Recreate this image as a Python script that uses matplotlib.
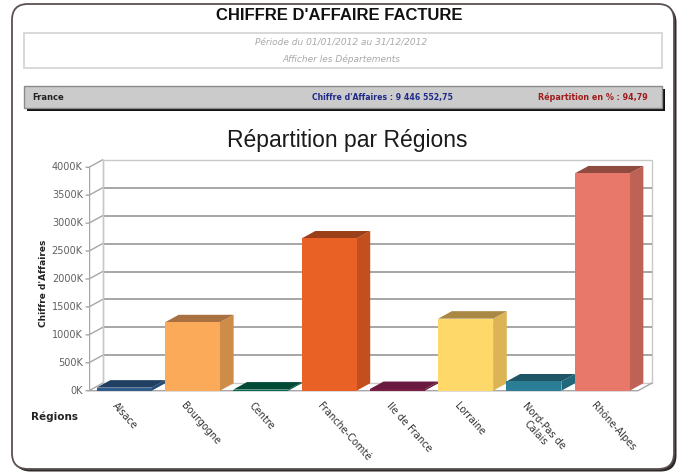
import matplotlib
matplotlib.use('Agg')
import matplotlib.pyplot as plt
from matplotlib.patches import FancyBboxPatch, Rectangle, Polygon

# Chiffre d'affaires par région (en milliers d'euros)
regions = ['Alsace', 'Bourgogne', 'Centre', 'Franche-Comté', 'Ile de France',
           'Lorraine', 'Nord-Pas de\nCalais', 'Rhône-Alpes']
ca_k = [55, 1225, 20, 2725, 30, 1290, 165, 3890]
y_ticks = [0, 500, 1000, 1500, 2000, 2500, 3000, 3500, 4000]

front_col = ['#2f5b8d', '#fbaa5a', '#006b4f', '#ea6125', '#7c1d48',
             '#fed96a', '#2b7e95', '#e8786a']
side_col = ['#264a74', '#cd8c48', '#005740', '#c24f1d', '#65173b',
            '#dcb456', '#22677a', '#be6256']
top_col = ['#203f62', '#a97041', '#004a36', '#9a3f17', '#6a1a3e',
           '#a98844', '#1e5666', '#914a40']

W, H = 685, 475
fig = plt.figure(figsize=(W / 100, H / 100), dpi=100)

# background axes in pixel coordinates
bg = fig.add_axes([0, 0, 1, 1])
bg.set_xlim(0, W)
bg.set_ylim(H, 0)
bg.axis('off')

# rounded panel with shadow
bg.add_patch(FancyBboxPatch((14.5, 6.5), 662, 465, boxstyle='round,pad=0,rounding_size=16',
                            facecolor='#2e2a2a', edgecolor='none'))
bg.add_patch(FancyBboxPatch((12, 4), 662, 465, boxstyle='round,pad=0,rounding_size=16',
                            facecolor='white', edgecolor='#5a5050', lw=1.3))

bg.text(339, 16, "CHIFFRE D'AFFAIRE FACTURE", ha='center', va='center',
        fontsize=12, fontweight='bold', family='Liberation Sans', color='#111111')

# period box
bg.add_patch(Rectangle((24, 33), 638, 35, facecolor='white', edgecolor='#d2d2d2', lw=1.2))
bg.text(341, 43, 'Période du 01/01/2012 au 31/12/2012', ha='center', va='center',
        fontsize=6.5, style='italic', color='#a8a8a8')
bg.text(341, 59, 'Afficher les Départements', ha='center', va='center',
        fontsize=6.5, style='italic', color='#a8a8a8')

# grey summary bar
bg.add_patch(Rectangle((27, 89), 638, 22, facecolor='#111111', edgecolor='none'))
bg.add_patch(Rectangle((24, 86), 638, 22, facecolor='#cbcbcb', edgecolor='#8a8a8a', lw=1))
bg.text(32, 97.5, 'France', ha='left', va='center', fontsize=6, fontweight='bold',
        color='#222222')
bg.text(382, 97.5, "Chiffre d'Affaires : 9 446 552,75", ha='center', va='center',
        fontsize=5.6, fontweight='bold', color='#1f2a8a')
bg.text(648, 97.5, 'Répartition en % : 94,79', ha='right', va='center',
        fontsize=5.8, fontweight='bold', color='#a01c1c')

bg.text(347, 141, 'Répartition par Régions', ha='center', va='center',
        fontsize=16.5, family='Liberation Sans', color='#1a1a1a')
bg.text(44, 283, "Chiffre d'Affaires", ha='center', va='center', rotation=90,
        fontsize=6.5, fontweight='bold', color='#222222')
bg.text(31, 417, 'Régions', ha='left', va='center', fontsize=7.5,
        fontweight='bold', color='#222222')

# chart axes: front-left corner at (89, 390.7), back-right at (651.7, 159.8)
dx, dy = 0.2, 134
xmax = 8.24
ax = fig.add_axes([89 / W, 1 - 390.7 / H, (651.7 - 89) / W, (390.7 - 159.8) / H])
ax.set_xlim(0, xmax)
ax.set_ylim(0, 4000 + dy)
ax.axis('off')
ax.patch.set_alpha(0)

grid_c = '#a6a6a6'
# back wall
ax.add_patch(Rectangle((dx, dy), xmax - dx, 4000, facecolor='white',
                       edgecolor='#c8c8c8', lw=1, zorder=1, clip_on=False))
for v in y_ticks[1:-1]:
    ax.plot([dx, xmax], [v + dy, v + dy], color=grid_c, lw=1.4, zorder=1,
            solid_capstyle='butt')
# left wall and front axis
for v in y_ticks:
    ax.plot([-0.04, 0, dx], [v, v, v + dy], color=grid_c, lw=1, zorder=1, clip_on=False)
    ax.text(-0.09, v, f'{v}K', ha='right', va='center', fontsize=7, color='#606060')
ax.plot([0, 0], [0, 4000], color=grid_c, lw=1, zorder=1)
ax.plot([dx, dx], [dy, 4000 + dy], color='#c8c8c8', lw=1, zorder=1)
# floor
ax.plot([0, 8.04, xmax], [0, 0, dy], color=grid_c, lw=1, zorder=1, clip_on=False)

# 3D bars
bw, off = 0.805, 0.113
for i, v in enumerate(ca_k):
    x0 = i + off
    x1 = x0 + bw
    z = 2 + i
    ax.add_patch(Polygon([(x1, 0), (x1 + dx, dy), (x1 + dx, v + dy), (x1, v)],
                         closed=True, facecolor=side_col[i], edgecolor='none', zorder=z))
    ax.add_patch(Polygon([(x0, v), (x1, v), (x1 + dx, v + dy), (x0 + dx, v + dy)],
                         closed=True, facecolor=top_col[i], edgecolor='none', zorder=z))
    ax.add_patch(Rectangle((x0, 0), bw, v, facecolor=front_col[i], edgecolor='none',
                           zorder=z))
    ax.text(i + 0.43, -170, regions[i], rotation=-48, rotation_mode='anchor',
            ha='left', va='top', multialignment='center', fontsize=7,
            color='#333333', clip_on=False)

plt.savefig('out.png', dpi=100)
